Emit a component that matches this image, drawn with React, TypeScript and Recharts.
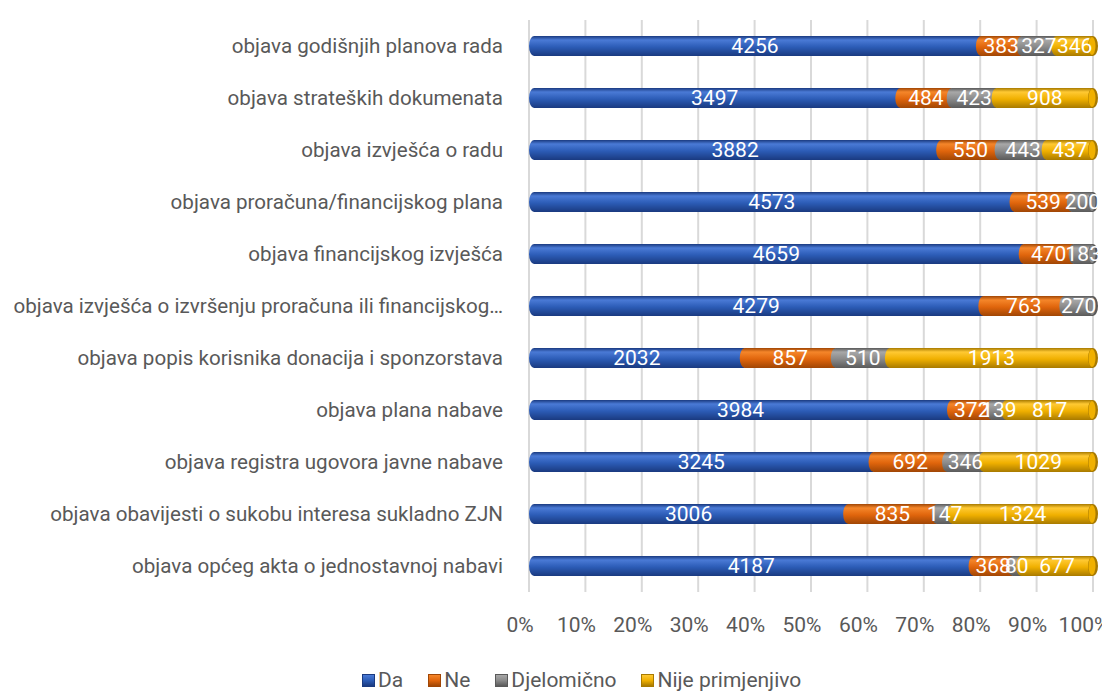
import { BarChart, Bar, XAxis, YAxis, CartesianGrid, Legend, LabelList } from 'recharts'

const categories = [
  'objava godišnjih planova rada',
  'objava strateških dokumenata',
  'objava izvješća o radu',
  'objava proračuna/financijskog plana',
  'objava financijskog izvješća',
  'objava izvješća o izvršenju proračuna ili financijskog plana',
  'objava popis korisnika donacija i sponzorstava',
  'objava plana nabave',
  'objava registra ugovora javne nabave',
  'objava obavijesti o sukobu interesa sukladno ZJN',
  'objava općeg akta o jednostavnoj nabavi'
]
const da = [4256, 3497, 3882, 4573, 4659, 4279, 2032, 3984, 3245, 3006, 4187]
const ne = [383, 484, 550, 539, 470, 763, 857, 372, 692, 835, 368]
const djelomicno = [327, 423, 443, 200, 183, 270, 510, 139, 346, 147, 80]
const nije = [346, 908, 437, 0, 0, 0, 1913, 817, 1029, 1324, 677]
const xTicks = [0, 0.1, 0.2, 0.3, 0.4, 0.5, 0.6, 0.7, 0.8, 0.9, 1]

const series = [
  { key: 'da', name: 'Da', top: '#4a7ad6', mid: '#2c5cb6', bot: '#1a3a80' },
  { key: 'ne', name: 'Ne', top: '#f5862a', mid: '#e0650c', bot: '#a04605' },
  { key: 'djel', name: 'Djelomično', top: '#a8a8a8', mid: '#8a8a8a', bot: '#5a5a5a' },
  { key: 'nije', name: 'Nije primjenjivo', top: '#ffc933', mid: '#f0b000', bot: '#a87a00' }
]

const data = categories.map((name, i) => ({
  name,
  da: da[i],
  ne: ne[i],
  djel: djelomicno[i],
  nije: nije[i]
}))

const font = 'Roboto, "Noto Sans", sans-serif'

function shorten(s: string) {
  return s.length > 56 ? s.slice(0, 54) + '…' : s
}

// cylinder-like segment: rounded left end, end cap on the last segment
function Segment(props: any) {
  const { x, y, width, height, dataKey, payload } = props
  if (!width || width <= 0) return null
  const s = series.find(k => k.key === dataKey)!
  const ry = height / 2
  const rx = 5
  const isLast = dataKey === 'nije' || (dataKey === 'djel' && !payload.nije)
  const x0 = dataKey === 'da' ? x + rx : x
  const d = `M${x0},${y} L${x + width},${y} L${x + width},${y + height} L${x0},${y + height} A${rx},${ry} 0 0 1 ${x0},${y} Z`
  return (
    <g>
      <path d={d} fill={`url(#g-${s.key})`} />
      {isLast && (
        <g>
          <ellipse cx={x + width} cy={y + ry} rx={rx} ry={ry} fill={s.bot} />
          <ellipse cx={x + width - 1} cy={y + ry} rx={rx - 1.5} ry={ry - 1} fill={s.mid} />
        </g>
      )}
    </g>
  )
}

function LegendBox() {
  return (
    <div style={{ display: 'flex', gap: 25, fontFamily: font, fontSize: 21, color: '#595959', alignItems: 'center' }}>
      {series.map(s => (
        <div key={s.key} style={{ display: 'flex', alignItems: 'center', gap: 3 }}>
          <span
            style={{
              display: 'inline-block',
              width: 13,
              height: 13,
              background: `linear-gradient(${s.top}, ${s.mid} 50%, ${s.bot})`,
              border: `1px solid ${s.bot}`,
              boxSizing: 'border-box'
            }}
          />
          <span>{s.name}</span>
        </div>
      ))}
    </div>
  )
}

export default function App() {
  return (
    <BarChart
      width={1102}
      height={684}
      data={data}
      layout="vertical"
      stackOffset="expand"
      barSize={20}
      margin={{ top: 12, right: 17, bottom: 0, left: 0 }}
      style={{ fontFamily: font }}
    >
      <defs>
        {series.map(s => (
          <linearGradient key={s.key} id={'g-' + s.key} x1="0" y1="0" x2="0" y2="1">
            <stop offset="0%" stopColor={s.bot} />
            <stop offset="20%" stopColor={s.top} />
            <stop offset="55%" stopColor={s.mid} />
            <stop offset="100%" stopColor={s.bot} />
          </linearGradient>
        ))}
      </defs>
      <CartesianGrid horizontal={false} stroke="#d9d9d9" strokeWidth={2} />
      <XAxis
        type="number"
        domain={[0, 1]}
        ticks={xTicks}
        interval={0}
        tickFormatter={(v: number) => `${Math.round(v * 100)}%`}
        axisLine={false}
        tickLine={false}
        tickSize={0}
        tickMargin={25}
        height={60}
        tick={{ fill: '#595959', fontSize: 21, dx: -9 }}
      />
      <YAxis
        type="category"
        dataKey="name"
        width={521}
        axisLine={false}
        tickLine={false}
        tickSize={0}
        tickMargin={26}
        interval={0}
        tickFormatter={shorten}
        tick={{ fill: '#595959', fontSize: 20.6 }}
      />
      <Legend
        verticalAlign="bottom"
        height={40}
        content={() => <LegendBox />}
        wrapperStyle={{ left: 354, width: 500, bottom: -16 }}
      />
      {series.map(s => (
        <Bar
          key={s.key}
          dataKey={s.key}
          name={s.name}
          stackId="a"
          fill={s.mid}
          shape={Segment}
          isAnimationActive={false}
        >
          <LabelList
            dataKey={s.key}
            position="center"
            fill="#ffffff"
            fontSize={21}
            formatter={(v: number) => (v ? v : '')}
          />
        </Bar>
      ))}
    </BarChart>
  )
}
